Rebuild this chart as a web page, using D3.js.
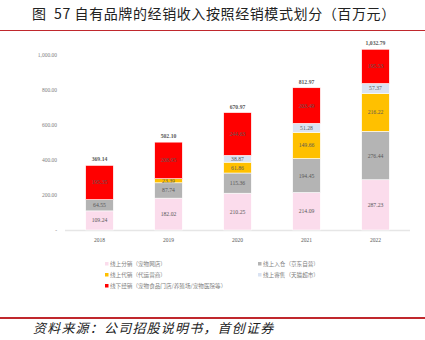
<!DOCTYPE html>
<html>
<head>
<meta charset="utf-8">
<script src="https://cdn.jsdelivr.net/npm/d3@7"></script>
<style>
  body { margin: 0; background: #fff; }
  svg { display: block; font-family: "Noto Sans CJK SC", "Noto Sans", sans-serif; }
</style>
</head>
<body>
<svg id="chart" width="425" height="340"></svg>
<script>
const years = ['2018', '2019', '2020', '2021', '2022']
const seriesNames = [
    '线上分销（宠物网店）',
    '线上入仓（京东自营）',
    '线上代销（代运营商）',
    '线上寄售（天猫超市）',
    '线下经销（宠物食品门店/养殖场/宠物医院等）'
]
const seriesColors = ['#fbdcec', '#b4b4b4', '#ffc000', '#dae3f3', '#ff0000']
// values per series, same order as years
const fenxiao = [109.24, 182.02, 210.25, 214.09, 287.23]
const ruCang = [64.55, 87.74, 115.36, 194.45, 276.44]
const daixiao = [0, 23.39, 61.86, 149.66, 216.22]
const jishou = [0, 0, 38.87, 51.28, 57.37]
const xianxia = [195.35, 208.95, 244.63, 203.49, 195.53]
const totals = [369.14, 502.10, 670.97, 812.97, 1032.79]
const yTicks = [0, 200, 400, 600, 800, 1000]

const svg = d3.select('#chart')

// title + red rule
svg.append('text')
    .attr('x', 32).attr('y', 19)
    .attr('font-size', 14)
    .attr('letter-spacing', 0.6)
    .attr('fill', '#222')
    .attr('xml:space', 'preserve')
    .text('图  57 自有品牌的经销收入按照经销模式划分（百万元）')
svg.append('line')
    .attr('x1', 0).attr('x2', 425).attr('y1', 30.5).attr('y2', 30.5)
    .attr('stroke', '#c0282d').attr('stroke-width', 1)

const x = d3.scaleBand().domain(years).range([65, 410]).paddingInner(0.6).paddingOuter(0.3)
const y = d3.scaleLinear().domain([0, 1000]).range([230, 55])

// stack rows
const rows = years.map((yr, i) => ({
    year: yr, s0: fenxiao[i], s1: ruCang[i], s2: daixiao[i], s3: jishou[i], s4: xianxia[i]
}))
const keys = ['s0', 's1', 's2', 's3', 's4']
const stacked = d3.stack().keys(keys)(rows)

// y axis labels (no line)
const fmt = d3.format(',.2f')
svg.append('g').selectAll('text')
    .data(yTicks)
    .join('text')
    .attr('x', 57)
    .attr('y', d => y(d) + 2)
    .attr('text-anchor', 'end')
    .attr('font-size', 5.5)
    .attr('font-family', 'Liberation Serif, serif')
    .attr('fill', '#7f7f7f')
    .text(d => d === 0 ? '-' : fmt(d))

// baseline
svg.append('line')
    .attr('x1', 65).attr('x2', 410).attr('y1', y(0) + 0.5).attr('y2', y(0) + 0.5)
    .attr('stroke', '#e6e6e6').attr('stroke-width', 1.5)

// bars
const layers = svg.append('g').selectAll('g')
    .data(stacked)
    .join('g')
    .attr('fill', (d, i) => seriesColors[i])

layers.selectAll('rect')
    .data(d => d.filter(p => p[1] - p[0] > 0))
    .join('rect')
    .attr('x', d => x(d.data.year))
    .attr('width', x.bandwidth())
    .attr('y', d => y(d[1]))
    .attr('height', d => y(d[0]) - y(d[1]))
    .attr('stroke', '#fff')
    .attr('stroke-width', 0.6)

// segment labels
layers.selectAll('text')
    .data(d => d.filter(p => p[1] - p[0] > 0))
    .join('text')
    .attr('x', d => x(d.data.year) + x.bandwidth() / 2)
    .attr('y', d => (y(d[0]) + y(d[1])) / 2 + 2)
    .attr('text-anchor', 'middle')
    .attr('font-size', 5.7)
    .attr('font-family', 'Liberation Serif, serif')
    .attr('fill', '#595959')
    .text(d => fmt(d[1] - d[0]))

// total labels
svg.append('g').selectAll('text')
    .data(years)
    .join('text')
    .attr('x', d => x(d) + x.bandwidth() / 2)
    .attr('y', (d, i) => y(totals[i]) - 4)
    .attr('text-anchor', 'middle')
    .attr('font-size', 5.7)
    .attr('font-weight', 'bold')
    .attr('font-family', 'Liberation Serif, serif')
    .attr('fill', '#595959')
    .text((d, i) => fmt(totals[i]))

// x labels
svg.append('g').selectAll('text')
    .data(years)
    .join('text')
    .attr('x', d => x(d) + x.bandwidth() / 2)
    .attr('y', 242)
    .attr('text-anchor', 'middle')
    .attr('font-size', 5.5)
    .attr('font-family', 'Liberation Serif, serif')
    .attr('fill', '#595959')
    .text(d => d)

// legend
const legendPos = [[105, 266], [258, 266], [105, 277], [258, 277], [105, 288]]
const legend = svg.append('g').selectAll('g')
    .data(d3.range(seriesNames.length))
    .join('g')
    .attr('transform', d => `translate(${legendPos[d][0]},${legendPos[d][1]})`)
legend.append('rect')
    .attr('x', 0).attr('y', -4).attr('width', 3.5).attr('height', 3.5)
    .attr('fill', d => seriesColors[d])
legend.append('text')
    .attr('x', 5).attr('y', 0)
    .attr('font-size', 5.6)
    .attr('fill', '#7f7f7f')
    .text(d => seriesNames[d])

// bottom rule + source
svg.append('line')
    .attr('x1', 0).attr('x2', 425).attr('y1', 318).attr('y2', 318)
    .attr('stroke', '#c0282d').attr('stroke-width', 2)
svg.append('text')
    .attr('x', 33).attr('y', 333)
    .attr('font-size', 13)
    .attr('font-style', 'italic')
    .attr('letter-spacing', 1.2)
    .attr('fill', '#222')
    .text('资料来源：公司招股说明书，首创证券')
</script>
</body>
</html>
